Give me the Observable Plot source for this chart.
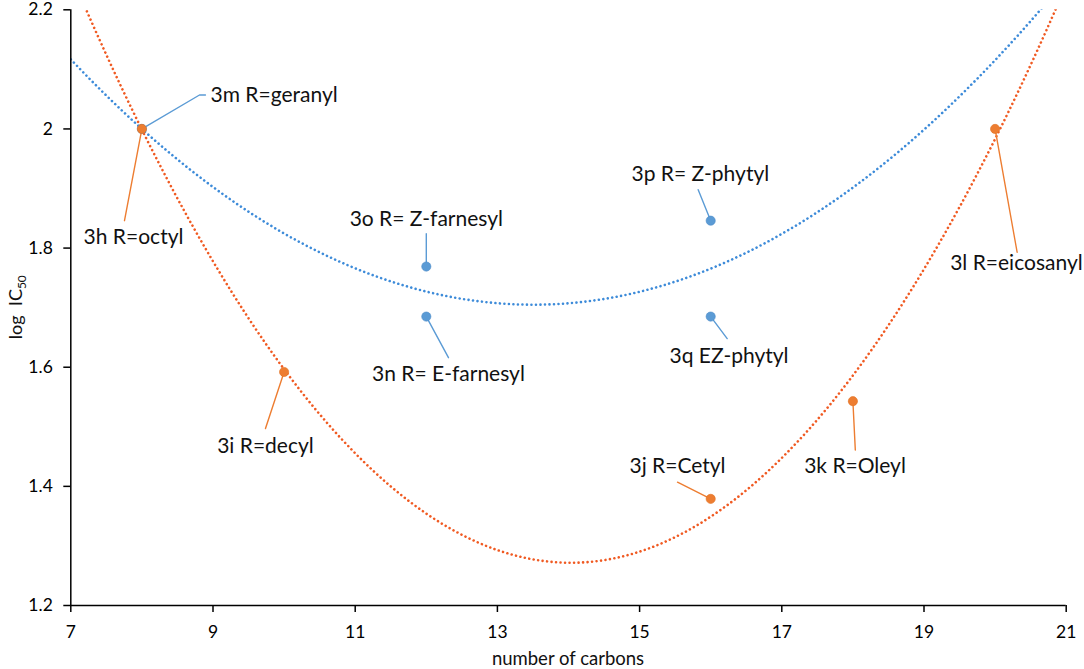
<!DOCTYPE html>
<html><head><meta charset="utf-8">
<script src="https://cdn.jsdelivr.net/npm/d3@7"></script>
<script src="https://cdn.jsdelivr.net/npm/@observablehq/plot@0.6"></script>
<style>body{margin:0;background:#fff;}</style>
</head><body><div id="chart"></div>
<script>
// ---- data ----
const alkylCarbons = [8, 10, 16, 18, 20];
const alkylLogIC50 = [2.0, 1.592, 1.379, 1.543, 2.0];
const alkylNames = ["3h R=octyl", "3i R=decyl", "3j R=Cetyl", "3k R=Oleyl", "3l R=eicosanyl"];
const isoCarbons = [8, 12, 12, 16, 16];
const isoLogIC50 = [2.0, 1.685, 1.769, 1.846, 1.685];
const isoNames = ["3m R=geranyl", "3n R= E-farnesyl", "3o R= Z-farnesyl", "3p R= Z-phytyl", "3q EZ-phytyl"];
const xTicks = [7, 9, 11, 13, 15, 17, 19, 21];
const yTicks = [1.2, 1.4, 1.6, 1.8, 2, 2.2];

// ---- annotation layout (data units) ----
const alkylLabelAt = [[7.882, 1.818], [9.738, 1.467], [15.533, 1.434], [18.03, 1.434], [20.30, 1.774]];
const alkylLabelAnchor = ["middle", "middle", "middle", "middle", "middle"];
const alkylLeader = [[[7.755, 1.846]], [[9.738, 1.497]], [[15.533, 1.407]], [[18.034, 1.461]], [[20.31, 1.793]]];
const isoLabelAt = [[8.965, 2.057], [12.312, 1.589], [12.0, 1.848], [14.886, 1.924], [15.42, 1.618]];
const isoLabelAnchor = ["start", "middle", "middle", "start", "start"];
const isoLeader = [[[8.81, 2.057], [8.894, 2.057]], [[12.312, 1.616]], [[12.0, 1.824]], [[15.824, 1.898]], [[16.232, 1.648]]];

const ORANGE = "#ED7D31", BLUE = "#5B9BD5";
const ORANGE_TREND = "#F05A22", BLUE_TREND = "#3D8BD9";

// quadratic least-squares fit (Excel polynomial trendline, order 2)
function quadFit(xs, ys) {
  const S = k => d3.sum(xs, x => x ** k);
  const T = k => d3.sum(xs, (x, i) => ys[i] * x ** k);
  const A = [[S(0), S(1), S(2), T(0)], [S(1), S(2), S(3), T(1)], [S(2), S(3), S(4), T(2)]];
  for (let i = 0; i < 3; i++) {
    for (let j = i + 1; j < 3; j++) {
      const f = A[j][i] / A[i][i];
      for (let k = i; k < 4; k++) A[j][k] -= f * A[i][k];
    }
  }
  const c = [0, 0, 0];
  for (let i = 2; i >= 0; i--) {
    let s = A[i][3];
    for (let k = i + 1; k < 3; k++) s -= A[i][k] * c[k];
    c[i] = s / A[i][i];
  }
  return x => c[0] + c[1] * x + c[2] * x * x;
}
const fA = quadFit(alkylCarbons, alkylLogIC50);
const fI = quadFit(isoCarbons, isoLogIC50);
const xs = d3.range(7, 21.0001, 0.05);
const trendA = xs.map(x => ({x, y: fA(x)}));
const trendI = xs.map(x => ({x, y: fI(x)}));

const alkyl = alkylCarbons.map((c, i) => ({x: c, y: alkylLogIC50[i], name: alkylNames[i]}));
const iso = isoCarbons.map((c, i) => ({x: c, y: isoLogIC50[i], name: isoNames[i]}));

function leaders(pts, legs, color) {
  const out = [];
  pts.forEach((p, i) => {
    out.push({x: p.x, y: p.y, g: color + i, c: color});
    legs[i].forEach(([x, y]) => out.push({x, y, g: color + i, c: color}));
  });
  return out;
}
const leaderRows = [...leaders(iso, isoLeader, BLUE), ...leaders(alkyl, alkylLeader, ORANGE)];

const labels = [
  ...alkyl.map((d, i) => ({x: alkylLabelAt[i][0], y: alkylLabelAt[i][1], text: d.name, a: alkylLabelAnchor[i]})),
  ...iso.map((d, i) => ({x: isoLabelAt[i][0], y: isoLabelAt[i][1], text: d.name, a: isoLabelAnchor[i]}))
];

const W = 1084, H = 669;
const chart = Plot.plot({
  width: W, height: H,
  marginLeft: 70.3, marginRight: 18.3, marginTop: 9.3, marginBottom: 64,
  style: {fontFamily: "Lato, 'Liberation Sans', sans-serif", background: "#fff", color: "#000"},
  x: {domain: [7, 21]},
  y: {domain: [1.2, 2.2]},
  marks: [
    Plot.axisX({ticks: xTicks, tickSize: 7, tickPadding: 13, fontSize: 17.5, label: null, tickFormat: d => String(d), stroke: "#000", strokeWidth: 1.5}),
    Plot.axisY({ticks: yTicks, tickSize: 7, tickPadding: 11, fontSize: 17.5, label: null, tickFormat: d => String(d), stroke: "#000", strokeWidth: 1.5}),
    Plot.line(trendA, {x: "x", y: "y", stroke: ORANGE_TREND, strokeWidth: 2.6, strokeDasharray: "0.01 4.5", strokeLinecap: "round", clip: true}),
    Plot.line(trendI, {x: "x", y: "y", stroke: BLUE_TREND, strokeWidth: 2.6, strokeDasharray: "0.01 4.5", strokeLinecap: "round", clip: true}),
    Plot.ruleX([7], {stroke: "#000", strokeWidth: 1.5}),
    Plot.ruleY([1.2], {stroke: "#000", strokeWidth: 1.5}),
    Plot.line(leaderRows, {x: "x", y: "y", z: "g", stroke: "c", strokeWidth: 1.4}),
    Plot.dot(iso, {x: "x", y: "y", r: 4.6, fill: BLUE, stroke: "#4A8AC8", strokeWidth: 0.6}),
    Plot.dot(alkyl, {x: "x", y: "y", r: 4.6, fill: ORANGE, stroke: "#E07020", strokeWidth: 0.6}),
    Plot.text(labels.filter(d => d.a === "middle"), {x: "x", y: "y", text: "text", textAnchor: "middle", lineAnchor: "middle", fontSize: 21, fill: "#111"}),
    Plot.text(labels.filter(d => d.a === "start"), {x: "x", y: "y", text: "text", textAnchor: "start", lineAnchor: "middle", fontSize: 21, fill: "#111"})
  ]
});

const svg = d3.select(chart);
// y-axis title with subscript
const yt = svg.append("text")
  .attr("transform", `translate(21.5,${(9.3 + 605) / 2}) rotate(-90)`)
  .attr("text-anchor", "middle")
  .attr("font-size", 18).attr("fill", "#111");
yt.append("tspan").text("log\u00A0\u00A0IC");
yt.append("tspan").attr("font-size", 12).attr("dy", 4).text("50");
svg.append("text")
  .attr("x", (70.3 + 1065.7) / 2).attr("y", 665)
  .attr("text-anchor", "middle").attr("font-size", 18.5).attr("fill", "#111")
  .text("number of carbons");

document.getElementById("chart").appendChild(chart);
</script>
</body></html>
